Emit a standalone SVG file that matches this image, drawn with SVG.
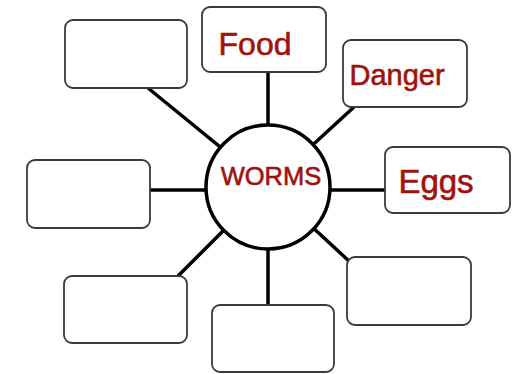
<svg xmlns="http://www.w3.org/2000/svg" width="517" height="374" viewBox="0 0 517 374">
<style>
.box{fill:#fff;stroke:#3a3a3a;stroke-width:1.8}
.lbl{fill:#a0120e;stroke:#a0120e;stroke-width:0.6;font-family:"Liberation Sans",Arial,sans-serif}
.con line{stroke:#000;stroke-width:3.5}
</style>
<rect width="517" height="374" fill="#fff"/>
<g class="con" id="connectors">
<line x1="268" y1="72" x2="268" y2="186"/>
<line x1="268" y1="186" x2="268" y2="305"/>
<line x1="150" y1="190" x2="268" y2="190"/>
<line x1="268" y1="190" x2="385" y2="190"/>
<line x1="148" y1="88" x2="268" y2="186"/>
<line x1="354" y1="107" x2="268" y2="186"/>
<line x1="178" y1="276" x2="268" y2="186"/>
<line x1="350" y1="262" x2="268" y2="186"/>
</g>
<g id="center"><circle cx="268" cy="187" r="62" fill="#fff" stroke="#000" stroke-width="3.5"/><text class="lbl" x="271" y="185" font-size="25.5" text-anchor="middle">WORMS</text></g>
<g id="food"><rect class="box" x="202" y="7" width="124" height="65" rx="8"/><text class="lbl" x="255" y="55" font-size="32" text-anchor="middle">Food</text></g>
<g id="danger"><rect class="box" x="343" y="40" width="124" height="67" rx="8"/><text class="lbl" x="397" y="85" font-size="29" text-anchor="middle">Danger</text></g>
<g id="eggs"><rect class="box" x="385" y="147" width="125" height="66" rx="8"/><text class="lbl" x="436" y="193" font-size="33" text-anchor="middle">Eggs</text></g>
<g id="box-tl"><rect class="box" x="65" y="20" width="122" height="68" rx="8"/></g>
<g id="box-l"><rect class="box" x="27" y="160" width="123" height="68" rx="8"/></g>
<g id="box-bl"><rect class="box" x="64" y="276" width="123" height="67" rx="8"/></g>
<g id="box-b"><rect class="box" x="212" y="305" width="122" height="67" rx="8"/></g>
<g id="box-br"><rect class="box" x="347" y="257" width="124" height="68" rx="8"/></g>
</svg>
